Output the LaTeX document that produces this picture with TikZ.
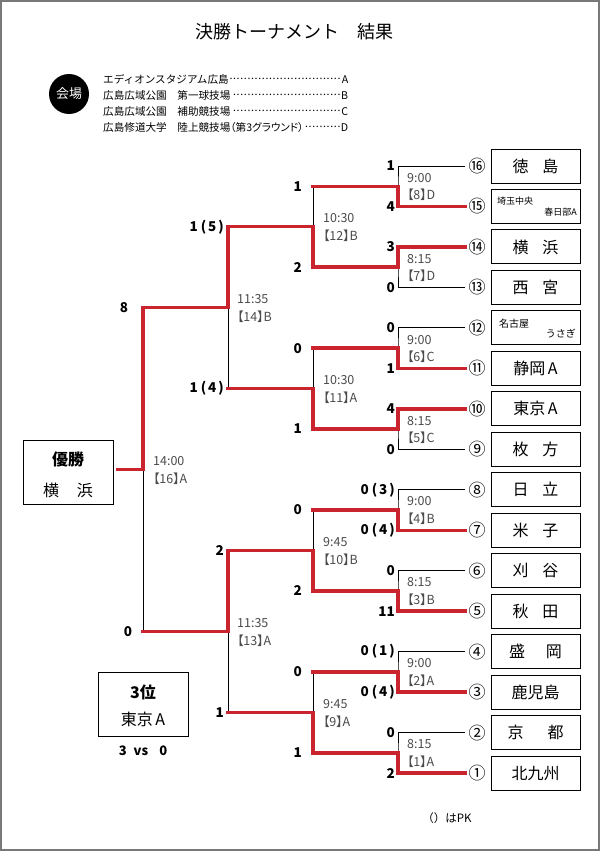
\documentclass[tikz,border=0pt]{standalone}
\usepackage{fontspec}
\setmainfont{Noto Sans CJK JP}
\newfontfamily\pfont[CharacterWidth=AlternateProportional]{Noto Sans CJK JP}
\usetikzlibrary{calc}
\definecolor{winred}{RGB}{202,36,46}
\definecolor{lblgray}{RGB}{75,75,75}
\definecolor{framegray}{RGB}{120,120,120}
\newcommand\myfs[1]{\fontsize{#1}{#1}\selectfont}
\newcommand\legdots{\leaders\hbox to 3.6pt{\hss\raisebox{0.3em}{.}\hss}\hfill}
\newcommand\pk[2]{#1\hspace{3pt}(\hspace{2pt}#2\hspace{2pt})}
\begin{document}
\begin{tikzpicture}[x=1pt,y=-1pt,
  br/.style={line width=1pt,black},
  win/.style={line width=3.4pt,winred,line cap=rect,line join=miter},
  teambox/.style={draw,line width=1pt,minimum width=89pt,minimum height=34pt,inner sep=0pt,font=\myfs{16}},
  num/.style={inner sep=0pt,outer sep=3.5pt,font=\myfs{17}},
  score/.style={inner sep=0pt,anchor=east,font=\myfs{13.5}\bfseries},
  tlab/.style={inner sep=0pt,anchor=west,text=lblgray,font=\pfont\myfs{12.5}},
  legtext/.style={inner sep=0pt,anchor=west,font=\myfs{10.6}},
  resbox/.style={draw,line width=1pt,minimum width=90pt,minimum height=64pt,inner sep=0pt}]
\useasboundingbox (0,0) rectangle (600,851);
\fill[white] (0,0) rectangle (600,851);
\draw[framegray,line width=2pt] (1,1) rectangle (599,850);

% title and legend
\node[inner sep=0pt,font=\myfs{18}] (title) at (294,32) {決勝トーナメント　結果};
\node[circle,fill=black,minimum size=40pt,inner sep=0pt,text=white,font=\myfs{13}] (venue) at (69,94) {会場};
\node[legtext] (legA) at (103,79) {\makebox[245pt][l]{エディオンスタジアム広島\legdots A}};
\node[legtext] (legB) at (103,95) {\makebox[245pt][l]{広島広域公園　第一球技場\,\legdots B}};
\node[legtext] (legC) at (103,111) {\makebox[245pt][l]{広島広域公園　補助競技場\,\legdots C}};
\node[legtext] (legD) at (103,127) {\makebox[245pt][l]{広島修道大学　陸上競技場{\pfont（第3グラウンド）}\legdots D}};

% team circles and boxes
\foreach \i/\c in {16/⑯,15/⑮,14/⑭,13/⑬,12/⑫,11/⑪,10/⑩,9/⑨,8/⑧,7/⑦,6/⑥,5/⑤,4/④,3/③,2/②,1/①}{
  \pgfmathsetmacro\yy{166+(16-\i)*40.47}
  \node[num] (c\i) at (477,\yy) {\c};
}
\foreach \i/\nm in {16/{徳\hspace{0.85em}島},14/{横\hspace{0.85em}浜},13/{西\hspace{0.85em}宮},
  11/{静岡\hspace{0.15em}A},10/{東京\hspace{0.15em}A},9/{枚\hspace{0.85em}方},8/{日\hspace{0.85em}立},
  7/{米\hspace{0.85em}子},6/{刈\hspace{0.85em}谷},5/{秋\hspace{0.85em}田},4/{盛\hspace{1.3em}岡},
  3/{鹿児島},2/{京\hspace{1.5em}都},1/{北九州}}{
  \pgfmathsetmacro\yy{166+(16-\i)*40.47}
  \node[teambox] (t\i) at (535.5,\yy) {\nm};
}
\node[teambox] (t15) at (535.5,206.47) {};
\node[inner sep=0pt,anchor=west,font=\myfs{9}] (t15a) at (497,201) {埼玉中央};
\node[inner sep=0pt,anchor=east,font=\myfs{9}] (t15b) at (577,212.5) {春日部A};
\node[teambox] (t12) at (535.5,327.88) {};
\node[inner sep=0pt,anchor=west,font=\myfs{10}] (t12a) at (499,324) {名古屋};
\node[inner sep=0pt,anchor=east,font=\myfs{10}] (t12b) at (576,334) {うさぎ};

% bracket coordinates
\coordinate (a8) at (398,186.24);  \coordinate (b8) at (313,186.24);
\coordinate (a7) at (398,267.18);  \coordinate (b7) at (313,267.18);
\coordinate (a6) at (398,348.12);  \coordinate (b6) at (313,348.12);
\coordinate (a5) at (398,429.06);  \coordinate (b5) at (313,429.06);
\coordinate (a4) at (398,510.00);  \coordinate (b4) at (313,510.00);
\coordinate (a3) at (398,590.94);  \coordinate (b3) at (313,590.94);
\coordinate (a2) at (398,671.88);  \coordinate (b2) at (313,671.88);
\coordinate (a1) at (398,752.82);  \coordinate (b1) at (313,752.82);
\coordinate (a12) at (313,226.71); \coordinate (b12) at (228,226.71);
\coordinate (a11) at (313,388.59); \coordinate (b11) at (228,388.59);
\coordinate (a10) at (313,550.47); \coordinate (b10) at (228,550.47);
\coordinate (a9) at (313,712.35);  \coordinate (b9) at (228,712.35);
\coordinate (a14) at (228,307.65); \coordinate (b14) at (143,307.65);
\coordinate (a13) at (228,631.41); \coordinate (b13) at (143,631.41);
\coordinate (a16) at (143,469.53); \coordinate (b16) at (118,469.53);

% thin bracket lines
\foreach \m/\p/\q in {8/16/15,7/14/13,6/12/11,5/10/9,4/8/7,3/6/5,2/4/3,1/2/1}{
  \draw[br] (c\p.west) -| (a\m) |- (c\q.west);
  \draw[br] (a\m) -- (b\m);
}
\foreach \m/\p/\q in {12/8/7,11/6/5,10/4/3,9/2/1,14/12/11,13/10/9,16/14/13}{
  \draw[br] (b\p) -- (b\q);
  \draw[br] (a\m) -- (b\m);
}

% winner paths
\draw[win] (c14.west) -| (a7) -- (b7) -- (a12) -- (b12) -- (a14) -- (b14) -- (a16) -- (b16);
\draw[win] (c15.west) -| (a8) -- (b8);
\draw[win] (c11.west) -| (a6) -- (b6);
\draw[win] (c10.west) -| (a5) -- (b5) -- (a11) -- (b11);
\draw[win] (c7.west) -| (a4) -- (b4);
\draw[win] (c5.west) -| (a3) -- (b3) -- (a10) -- (b10) -- (a13) -- (b13);
\draw[win] (c3.west) -| (a2) -- (b2);
\draw[win] (c1.west) -| (a1) -- (b1) -- (a9) -- (b9);

% round 1 scores
\foreach \i/\s in {16/1,15/4,14/3,13/0,12/0,11/1,10/4,9/0,8/{\pk{0}{3}},7/{\pk{0}{4}},6/0,5/11,4/{\pk{0}{1}},3/{\pk{0}{4}},2/0,1/2}{
  \pgfmathsetmacro\yy{166+(16-\i)*40.47}
  \node[score] (s\i) at (395,\yy) {\s};
}
% round 2 scores
\foreach \n/\y/\s in {r8/186.24/1,r7/267.18/2,r6/348.12/0,r5/429.06/1,r4/510.00/0,r3/590.94/2,r2/671.88/0,r1/752.82/1}{
  \node[score] (s\n) at (302,\y) {\s};
}
% round 3 scores
\foreach \n/\y/\s in {q12/226.71/{\pk{1}{5}},q11/388.59/{\pk{1}{4}},q10/550.47/2,q9/712.35/1}{
  \node[score] (s\n) at (224,\y) {\s};
}
\node[score,anchor=center] (sf14) at (124,307.65) {8};
\node[score,anchor=center] (sf13) at (128,631.41) {0};

% times and venues
\foreach \n/\x/\y/\t/\v in {8/407/186.24/9:00/【8】D,7/407/267.18/8:15/【7】D,6/407/348.12/9:00/【6】C,
  5/407/429.06/8:15/【5】C,4/407/510.00/9:00/【4】B,3/407/590.94/8:15/【3】B,2/407/671.88/9:00/【2】A,
  1/407/752.82/8:15/【1】A,12/323/226.71/10:30/【12】B,11/323/388.59/10:30/【11】A,10/323/550.47/9:45/【10】B,
  9/323/712.35/9:45/【9】A,14/237/307.65/11:35/【14】B,13/237/631.41/11:35/【13】A,16/153/469.53/14:00/【16】A}{
  \node[tlab] (time\n) at (\x,\y-8.5) {\t};
  \node[tlab] (ven\n) at (\x,\y+9) {\v};
}

% champion and third place
\node[resbox] (champ) at (68,472) {};
\node[inner sep=0pt,font=\myfs{16}\bfseries] (champA) at (68,459) {優勝};
\node[inner sep=0pt,font=\myfs{16}] (champB) at (68,490) {横\hspace{1.1em}浜};
\node[resbox] (third) at (143,704) {};
\node[inner sep=0pt,font=\myfs{16}\bfseries] (thirdA) at (143,692) {3位};
\node[inner sep=0pt,font=\myfs{16}] (thirdB) at (143,719) {東京\hspace{0.15em}A};
\node[inner sep=0pt,font=\myfs{13}\bfseries] (thirdC) at (143,751) {3\hspace{7pt}vs\hspace{11pt}0};

\node[inner sep=0pt,font=\myfs{11.5}] (pk) at (447,818) {（）はPK};
\end{tikzpicture}
\end{document}
